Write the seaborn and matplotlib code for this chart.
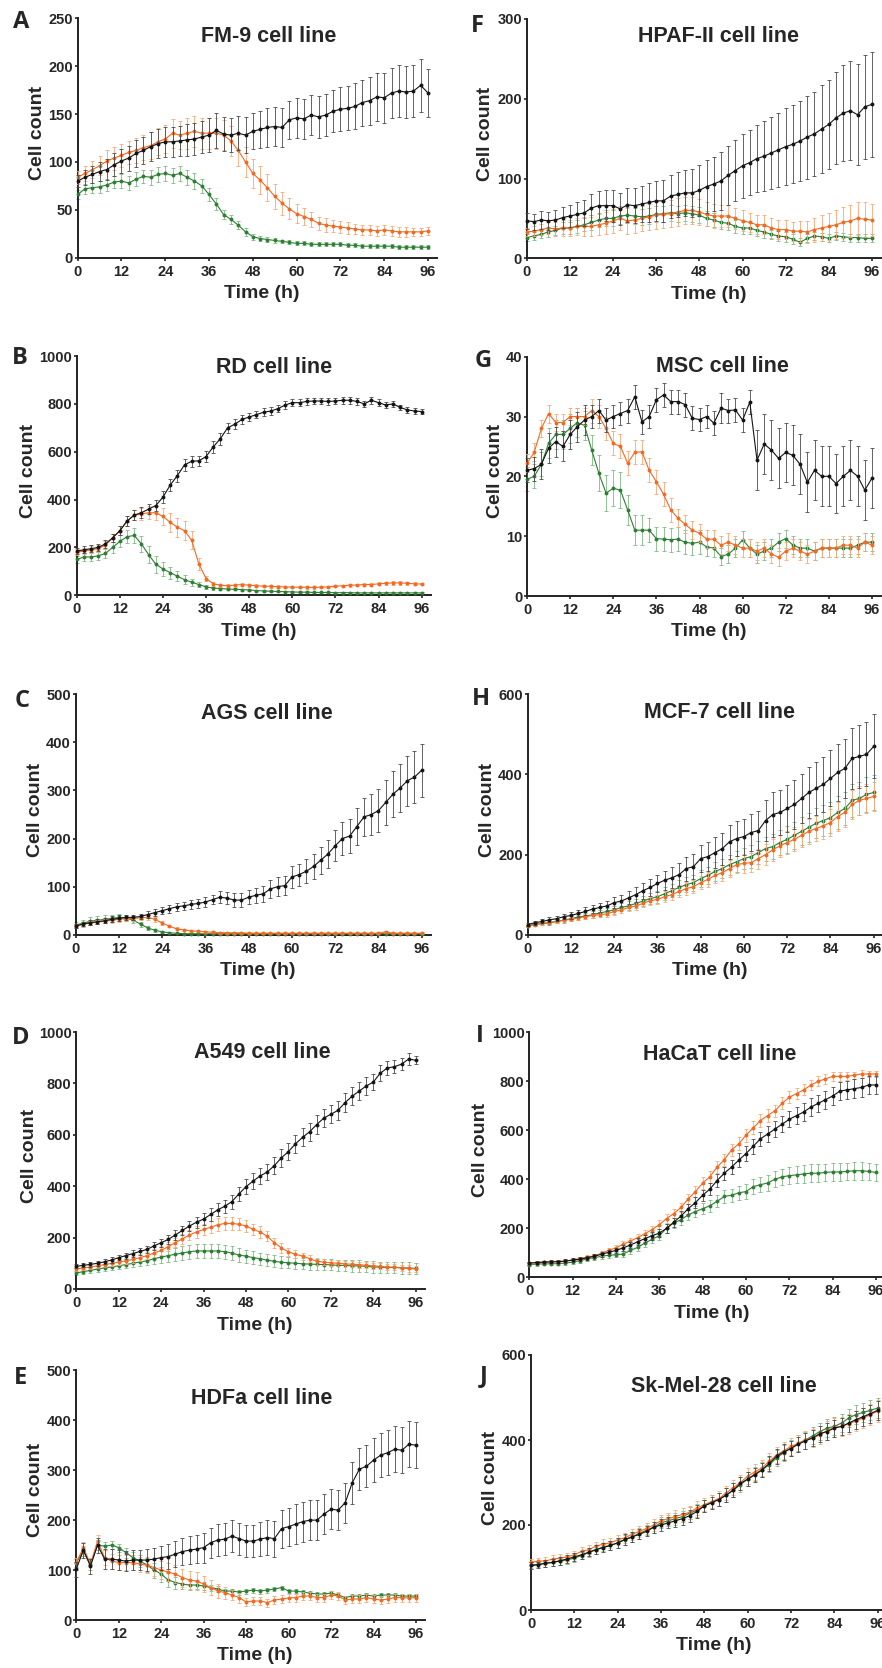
import matplotlib
matplotlib.use("Agg")
from matplotlib import pyplot as plt
import seaborn as sns
import pandas as pd

# time points (h), sampled every 2 h
HOURS = list(range(0, 97, 2))

# --- A: FM-9 ---
FM9_BLACK = [80, 84, 87, 90, 92, 97, 101, 104, 109, 112, 116, 119, 121, 121,
             122, 123, 124, 126, 128, 133, 129, 128, 130, 128, 132, 134, 136, 137,
             136, 144, 146, 145, 149, 147, 149, 153, 155, 156, 158, 162, 164, 168,
             167, 172, 174, 173, 174, 180, 172]
FM9_BLACK_SD = [6, 8, 9, 10, 11, 12, 13, 13, 14, 14, 15, 15, 16, 16,
                16, 17, 17, 17, 18, 18, 18, 18, 18, 19, 19, 19, 20, 20,
                20, 20, 21, 21, 21, 22, 22, 22, 23, 23, 24, 24, 25, 25,
                26, 26, 27, 27, 27, 28, 25]
FM9_ORANGE = [84, 88, 92, 96, 101, 104, 107, 110, 112, 115, 117, 121, 124, 130,
              128, 130, 132, 130, 130, 130, 128, 122, 112, 100, 88, 81, 73, 64,
              57, 51, 46, 43, 40, 36, 34, 33, 32, 31, 30, 29, 29, 28,
              29, 28, 27, 27, 27, 27, 28]
FM9_ORANGE_SD = [7, 8, 9, 10, 11, 12, 12, 12, 13, 13, 14, 14, 15, 15,
                 15, 16, 16, 16, 16, 16, 16, 16, 16, 16, 15, 15, 14, 13,
                 12, 11, 10, 9, 8, 7, 7, 6, 6, 6, 5, 5, 5, 5,
                 5, 5, 5, 5, 4, 4, 4]
FM9_GREEN = [66, 72, 73, 74, 76, 79, 80, 78, 82, 85, 84, 87, 88, 86,
             88, 84, 80, 75, 66, 56, 45, 40, 34, 27, 22, 20, 19, 18,
             17, 16, 15, 15, 14, 14, 14, 14, 14, 13, 13, 12, 12, 12,
             12, 12, 11, 11, 11, 11, 11]
FM9_GREEN_SD = [5, 5, 5, 6, 6, 6, 7, 7, 7, 7, 8, 8, 8, 8,
                8, 8, 8, 7, 7, 6, 5, 5, 4, 4, 3, 3, 3, 3,
                2, 2, 2, 2, 2, 2, 2, 2, 2, 2, 2, 2, 2, 2,
                2, 2, 2, 2, 2, 2, 2]

# --- B: RD ---
RD_BLACK = [185, 190, 195, 200, 215, 240, 270, 310, 335, 345, 360, 375, 410, 460,
            500, 545, 560, 562, 580, 620, 655, 700, 715, 735, 745, 755, 765, 770,
            780, 795, 805, 805, 810, 812, 812, 810, 812, 815, 815, 810, 800, 815,
            805, 795, 800, 785, 775, 770, 768]
RD_BLACK_SD = [12, 14, 15, 15, 16, 18, 18, 20, 20, 22, 22, 22, 24, 25,
               25, 25, 22, 22, 24, 25, 25, 22, 20, 18, 18, 16, 16, 16,
               16, 15, 15, 14, 14, 14, 14, 14, 14, 14, 14, 14, 14, 14,
               14, 12, 12, 12, 12, 12, 10]
RD_ORANGE = [180, 185, 190, 195, 210, 240, 270, 310, 335, 340, 345, 345, 330, 305,
             285, 270, 230, 130, 70, 48, 42, 40, 42, 45, 42, 40, 38, 37,
             36, 35, 34, 34, 33, 33, 34, 35, 38, 40, 42, 43, 45, 45,
             48, 50, 52, 52, 50, 48, 47]
RD_ORANGE_SD = [12, 12, 14, 14, 15, 16, 18, 20, 22, 25, 28, 30, 35, 40,
                40, 40, 38, 25, 12, 8, 6, 6, 6, 6, 6, 6, 5, 5,
                5, 5, 5, 5, 5, 5, 5, 5, 5, 5, 6, 6, 6, 6,
                6, 6, 7, 7, 7, 7, 6]
RD_GREEN = [150, 160, 160, 165, 175, 200, 225, 245, 250, 215, 170, 130, 110, 95,
            80, 65, 55, 45, 35, 30, 28, 26, 25, 24, 22, 20, 18, 17,
            16, 15, 14, 13, 13, 12, 12, 12, 11, 11, 11, 10, 10, 10,
            10, 10, 10, 10, 10, 10, 10]
RD_GREEN_SD = [15, 16, 18, 18, 20, 22, 25, 28, 30, 32, 35, 35, 30, 25,
               22, 18, 15, 12, 8, 6, 5, 5, 4, 4, 4, 4, 3, 3,
               3, 3, 3, 3, 3, 3, 3, 3, 3, 3, 3, 3, 3, 3,
               3, 3, 3, 3, 3, 3, 3]

# --- C: AGS ---
AGS_BLACK = [18, 22, 25, 27, 29, 32, 34, 36, 36, 38, 42, 46, 50, 54,
             58, 60, 63, 65, 68, 73, 78, 76, 72, 72, 78, 82, 85, 95,
             100, 102, 120, 125, 132, 142, 155, 168, 185, 200, 205, 225, 245, 250,
             258, 275, 292, 305, 320, 328, 342]
AGS_BLACK_SD = [4, 4, 5, 5, 5, 6, 6, 6, 6, 6, 7, 7, 7, 8,
                8, 8, 9, 9, 10, 10, 12, 12, 14, 15, 15, 16, 17, 18,
                19, 20, 22, 23, 25, 26, 28, 30, 32, 34, 36, 38, 40, 42,
                44, 46, 48, 50, 52, 54, 55]
AGS_ORANGE = [18, 22, 24, 26, 28, 30, 32, 33, 34, 35, 36, 32, 24, 18,
              12, 10, 8, 7, 6, 5, 4, 4, 4, 4, 3, 3, 3, 3,
              3, 3, 3, 3, 3, 3, 3, 3, 3, 3, 3, 3, 3, 3,
              3, 6, 3, 3, 3, 3, 3]
AGS_ORANGE_SD = [3, 3, 4, 4, 4, 5, 5, 5, 5, 5, 5, 5, 4, 3,
                 3, 2, 2, 2, 2, 2, 2, 2, 2, 2, 2, 2, 2, 2,
                 2, 2, 2, 2, 2, 2, 2, 2, 2, 2, 2, 2, 2, 2,
                 2, 2, 2, 2, 2, 2, 2]
AGS_GREEN = [20, 24, 28, 30, 32, 34, 36, 35, 30, 22, 14, 9, 6, 4,
             3, 2, 2, 2, 2, 2, 2, 2, 2, 2, 2, 2, 2, 2,
             2, 2, 2, 2, 2, 2, 2, 2, 2, 2, 2, 2, 2, 2,
             2, 2, 2, 2, 2, 2, 2]
AGS_GREEN_SD = [6, 7, 8, 8, 8, 8, 8, 7, 6, 5, 4, 3, 2, 2,
                1, 1, 1, 1, 1, 1, 1, 1, 1, 1, 1, 1, 1, 1,
                1, 1, 1, 1, 1, 1, 1, 1, 1, 1, 1, 1, 1, 1,
                1, 1, 1, 1, 1, 1, 1]

# --- D: A549 ---
A549_BLACK = [88, 92, 96, 100, 106, 113, 122, 130, 138, 146, 154, 168, 180, 193,
              210, 228, 245, 260, 272, 290, 308, 322, 340, 370, 398, 420, 440, 455,
              480, 510, 535, 565, 590, 612, 640, 665, 680, 695, 725, 750, 770, 790,
              805, 840, 860, 865, 875, 895, 890]
A549_BLACK_SD = [8, 8, 9, 9, 10, 10, 11, 12, 12, 13, 14, 15, 16, 17,
                 18, 19, 20, 21, 22, 24, 25, 26, 27, 28, 30, 30, 32, 32,
                 33, 34, 34, 35, 35, 35, 36, 36, 36, 36, 36, 35, 35, 34,
                 32, 30, 28, 26, 24, 22, 15]
A549_ORANGE = [78, 82, 86, 90, 95, 100, 105, 110, 115, 122, 130, 140, 150, 165,
               180, 195, 210, 222, 232, 240, 250, 255, 255, 252, 245, 232, 222, 205,
               180, 160, 145, 135, 128, 118, 108, 104, 102, 100, 98, 96, 95, 92,
               90, 88, 85, 85, 82, 80, 78]
A549_ORANGE_SD = [8, 8, 9, 9, 10, 10, 11, 12, 12, 13, 14, 15, 16, 18,
                  18, 20, 20, 22, 22, 24, 25, 25, 25, 24, 24, 22, 22, 20,
                  20, 18, 16, 15, 14, 14, 13, 12, 12, 12, 12, 12, 12, 12,
                  12, 12, 12, 12, 12, 12, 12]
A549_GREEN = [62, 68, 72, 78, 82, 86, 90, 95, 100, 105, 110, 118, 124, 130,
              135, 140, 145, 148, 148, 148, 148, 145, 140, 132, 128, 122, 118, 112,
              108, 104, 102, 100, 98, 97, 96, 95, 94, 92, 92, 90, 90, 88,
              86, 85, 84, 84, 82, 82, 80]
A549_GREEN_SD = [8, 9, 10, 11, 12, 13, 14, 15, 16, 17, 18, 20, 22, 24,
                 25, 26, 27, 28, 28, 28, 28, 28, 27, 26, 25, 25, 24, 24,
                 23, 23, 22, 22, 22, 22, 22, 22, 22, 22, 22, 22, 22, 22,
                 22, 22, 22, 22, 22, 22, 22]

# --- E: HDFa ---
HDFA_BLACK = [102, 140, 108, 150, 122, 122, 120, 118, 120, 120, 120, 122, 125, 127,
              132, 137, 140, 142, 145, 155, 160, 162, 168, 163, 158, 158, 162, 165,
              163, 183, 187, 192, 197, 200, 200, 212, 222, 220, 235, 275, 302, 308,
              320, 330, 335, 342, 340, 352, 350]
HDFA_BLACK_SD = [15, 15, 15, 15, 20, 20, 20, 20, 20, 20, 22, 22, 24, 25,
                 26, 27, 28, 28, 30, 30, 32, 32, 32, 32, 32, 32, 34, 35,
                 36, 38, 38, 40, 40, 40, 40, 40, 40, 40, 40, 42, 42, 42,
                 44, 44, 45, 46, 46, 46, 46]
HDFA_ORANGE = [115, 145, 112, 158, 125, 118, 115, 115, 115, 112, 110, 105, 100, 96,
               92, 85, 80, 78, 72, 65, 58, 55, 50, 45, 36, 38, 38, 35,
               40, 42, 44, 45, 48, 48, 45, 45, 50, 48, 40, 42, 42, 45,
               42, 40, 42, 45, 45, 44, 45]
HDFA_ORANGE_SD = [10, 12, 12, 12, 15, 15, 15, 15, 15, 15, 16, 16, 18, 18,
                  18, 18, 18, 18, 16, 15, 14, 12, 10, 10, 8, 8, 8, 8,
                  8, 8, 8, 8, 8, 8, 8, 8, 8, 8, 8, 8, 8, 8,
                  8, 8, 8, 8, 8, 8, 8]
HDFA_GREEN = [115, 138, 110, 150, 148, 150, 145, 135, 125, 118, 110, 100, 92, 80,
              75, 72, 70, 70, 68, 65, 62, 58, 58, 56, 58, 60, 58, 60,
              62, 65, 58, 58, 56, 54, 52, 52, 54, 50, 45, 48, 48, 50,
              48, 50, 50, 50, 48, 48, 48]
HDFA_GREEN_SD = [8, 10, 10, 10, 8, 8, 8, 10, 12, 12, 14, 15, 15, 14,
                 12, 10, 10, 8, 8, 6, 6, 5, 5, 5, 5, 5, 5, 5,
                 4, 4, 4, 4, 4, 4, 4, 4, 4, 4, 4, 4, 4, 4,
                 4, 4, 4, 4, 4, 4, 4]

# --- F: HPAF-II ---
HPAF_BLACK = [47, 46, 48, 47, 48, 51, 53, 55, 57, 63, 66, 66, 66, 62,
              67, 66, 68, 70, 72, 72, 78, 80, 82, 82, 85, 90, 93, 97,
              104, 110, 116, 120, 125, 128, 132, 136, 140, 143, 147, 152, 156, 162,
              168, 176, 182, 185, 180, 190, 193]
HPAF_BLACK_SD = [10, 10, 11, 11, 12, 13, 14, 15, 16, 17, 18, 19, 20, 20,
                 21, 22, 23, 24, 25, 26, 27, 28, 29, 30, 32, 33, 34, 36,
                 37, 38, 40, 41, 42, 44, 45, 46, 48, 49, 50, 52, 53, 55,
                 56, 58, 60, 62, 63, 65, 66]
HPAF_ORANGE = [33, 34, 36, 38, 37, 38, 38, 40, 40, 40, 42, 44, 47, 50,
               47, 48, 50, 52, 54, 55, 56, 58, 60, 60, 58, 55, 53, 53,
               53, 50, 47, 45, 42, 42, 38, 36, 36, 34, 34, 33, 36, 38,
               40, 42, 45, 47, 50, 49, 48]
HPAF_ORANGE_SD = [5, 6, 7, 8, 9, 10, 10, 11, 12, 12, 13, 14, 15, 15,
                  16, 16, 16, 16, 17, 17, 17, 17, 17, 17, 16, 15, 15, 14,
                  14, 13, 13, 12, 12, 12, 12, 12, 12, 12, 13, 14, 15, 16,
                  17, 18, 19, 20, 21, 22, 20]
HPAF_GREEN = [26, 28, 30, 33, 35, 38, 38, 40, 42, 45, 48, 50, 50, 53,
              54, 53, 52, 53, 55, 56, 57, 56, 57, 56, 54, 50, 48, 45,
              44, 40, 38, 38, 35, 33, 30, 28, 27, 24, 20, 25, 28, 27,
              25, 28, 27, 26, 26, 25, 25]
HPAF_GREEN_SD = [4, 5, 5, 6, 6, 7, 7, 8, 8, 9, 9, 10, 10, 10,
                 10, 10, 10, 10, 10, 10, 10, 10, 10, 10, 10, 9, 9, 8,
                 8, 8, 8, 7, 7, 7, 6, 6, 6, 6, 5, 5, 5, 5,
                 5, 5, 5, 5, 5, 5, 5]

# --- G: MSC ---
MSC_BLACK = [21, 21.3, 22, 24.7, 25.8, 25, 27, 28.3, 29.4, 30, 31, 29.4, 30, 30.5,
             31, 33.3, 29.1, 30, 32.8, 33.6, 32.5, 32.5, 32, 29.7, 29.5, 30, 28.9, 31.4,
             31, 31.1, 29.4, 32.4, 22.7, 25.4, 24.4, 23, 24, 23.5, 22, 19, 21, 20,
             20, 18.8, 20, 21, 20, 17.7, 19.7]
MSC_BLACK_SD = [2, 2, 2.5, 2.5, 2.5, 2.5, 2.5, 2.5, 2.5, 2, 2, 2, 2, 2,
                2, 2, 2, 2, 2, 2, 2, 2, 2, 2, 2, 2, 2, 2.5,
                2, 2, 2, 2, 5, 5, 5, 5, 5, 5, 5, 5, 5, 5,
                5, 5, 5, 5, 5, 5, 5]
MSC_ORANGE = [22.2, 24, 28, 30.5, 29, 29, 30, 30, 30, 31, 30, 28, 25.5, 25,
              22.2, 24, 24.1, 21, 19.1, 17, 14.4, 13, 12, 11, 10.5, 9.5, 9.5, 8.5,
              9, 8.5, 8, 8, 7.5, 8, 7, 6.5, 7.5, 8, 7.5, 7, 7.5, 8,
              8, 8, 8.5, 8.5, 8, 9, 8.5]
MSC_ORANGE_SD = [1.5, 1.5, 1.5, 1.5, 1.5, 1.5, 1.5, 1.5, 1.5, 2, 2, 2, 2, 2,
                 2, 2, 2, 2, 2, 2, 2, 1.5, 1.5, 1.5, 1.5, 1.5, 1.5, 1.5,
                 1.5, 1.5, 1.5, 1.5, 1.5, 1.5, 1.5, 1.5, 1.5, 1.5, 1.5, 1.5, 1.5, 1.5,
                 1.5, 1.5, 1.5, 1.5, 1.5, 1.5, 1.5]
MSC_GREEN = [19.5, 20, 22, 25.5, 27, 27, 28, 29, 28.5, 24.4, 20.5, 17.2, 18, 17.7,
             14.4, 11, 11, 11, 9.6, 9.5, 9.4, 9.5, 9, 8.8, 9, 8.2, 8, 6.6,
             7, 8, 9.4, 8, 7, 7.5, 8, 9, 9.6, 8.5, 8, 8, 7.5, 8,
             8, 8, 8, 8, 8.5, 9, 9]
MSC_GREEN_SD = [2, 2, 2, 2.5, 2.5, 2.5, 2.5, 2.5, 2.5, 2.5, 3, 3, 3, 3,
                2.5, 2.5, 2.5, 2, 2, 2, 2, 2, 2, 2, 2, 1.5, 1.5, 1.5,
                1.5, 1.5, 1.5, 1.5, 1.5, 1.5, 1.5, 1.5, 1.5, 1.5, 1.5, 1.5, 1.5, 1.5,
                1.5, 1.5, 1.5, 1.5, 1.5, 1.5, 1.5]

# --- H: MCF-7 ---
MCF7_BLACK = [25, 30, 33, 37, 40, 45, 48, 53, 58, 64, 68, 72, 80, 84,
              92, 100, 110, 118, 128, 136, 142, 150, 165, 170, 190, 195, 205, 215,
              232, 240, 245, 255, 260, 285, 300, 305, 315, 325, 340, 355, 365, 375,
              390, 405, 415, 440, 445, 450, 470]
MCF7_BLACK_SD = [4, 5, 5, 6, 6, 7, 8, 9, 10, 11, 12, 13, 14, 15,
                 16, 18, 20, 21, 22, 24, 26, 28, 30, 32, 34, 36, 38, 40,
                 42, 44, 45, 47, 49, 52, 55, 57, 58, 60, 62, 64, 66, 68,
                 70, 72, 74, 76, 78, 80, 80]
MCF7_ORANGE = [22, 25, 28, 30, 33, 36, 38, 42, 45, 48, 50, 52, 58, 62,
               68, 72, 78, 85, 88, 95, 100, 108, 115, 120, 130, 138, 148, 155,
               165, 175, 178, 180, 190, 200, 212, 222, 230, 238, 248, 258, 265, 272,
               280, 295, 305, 325, 335, 340, 345]
MCF7_ORANGE_SD = [3, 3, 4, 4, 5, 5, 5, 6, 6, 6, 7, 7, 8, 8,
                  9, 10, 10, 11, 12, 13, 14, 15, 16, 16, 17, 18, 19, 20,
                  21, 22, 23, 24, 25, 26, 27, 28, 29, 30, 30, 31, 32, 33,
                  34, 35, 35, 36, 36, 37, 37]
MCF7_GREEN = [22, 26, 28, 30, 33, 36, 40, 44, 46, 50, 54, 58, 62, 68,
              72, 78, 84, 90, 95, 102, 110, 118, 125, 130, 140, 148, 158, 165,
              175, 182, 190, 195, 205, 215, 220, 230, 238, 248, 258, 268, 278, 285,
              292, 305, 315, 335, 340, 350, 355]
MCF7_GREEN_SD = [3, 4, 4, 5, 5, 6, 6, 7, 7, 8, 8, 9, 10, 10,
                 11, 12, 13, 14, 15, 16, 17, 18, 19, 20, 21, 22, 23, 24,
                 25, 26, 27, 28, 29, 30, 31, 32, 33, 34, 35, 36, 37, 38,
                 39, 40, 41, 42, 42, 43, 43]

# --- I: HaCaT ---
HACAT_BLACK = [58, 60, 62, 63, 64, 66, 70, 74, 80, 86, 94, 102, 110, 120,
               132, 145, 158, 170, 180, 200, 225, 250, 280, 305, 335, 360, 395, 425,
               450, 478, 505, 535, 565, 585, 605, 625, 645, 660, 675, 695, 710, 725,
               740, 760, 765, 770, 775, 785, 785]
HACAT_BLACK_SD = [6, 6, 6, 6, 6, 7, 7, 8, 8, 9, 10, 10, 11, 12,
                  13, 14, 15, 16, 17, 18, 19, 20, 21, 22, 23, 24, 25, 26,
                  27, 28, 29, 30, 30, 31, 32, 32, 33, 34, 35, 36, 36, 37,
                  38, 38, 38, 38, 38, 38, 38]
HACAT_ORANGE = [58, 60, 62, 63, 64, 66, 72, 76, 82, 88, 98, 110, 120, 135,
                148, 162, 178, 195, 215, 240, 260, 285, 320, 350, 385, 410, 450, 480,
                520, 545, 580, 610, 640, 660, 680, 710, 735, 750, 765, 785, 800, 810,
                820, 820, 820, 825, 830, 830, 830]
HACAT_ORANGE_SD = [6, 6, 6, 6, 7, 7, 7, 8, 8, 9, 10, 10, 11, 12,
                   13, 14, 15, 16, 17, 18, 19, 20, 21, 22, 23, 24, 25, 25,
                   26, 26, 26, 26, 26, 26, 25, 25, 24, 23, 22, 21, 20, 19,
                   18, 17, 16, 15, 15, 14, 14]
HACAT_GREEN = [52, 54, 55, 55, 56, 58, 62, 68, 75, 80, 86, 90, 92, 95,
               110, 122, 140, 155, 170, 200, 222, 235, 255, 268, 280, 292, 310, 330,
               335, 345, 350, 370, 378, 385, 400, 410, 415, 418, 422, 425, 425, 428,
               430, 430, 432, 435, 435, 432, 428]
HACAT_GREEN_SD = [6, 6, 6, 6, 7, 7, 7, 8, 8, 9, 10, 10, 11, 12,
                  13, 14, 15, 16, 17, 18, 19, 20, 21, 22, 23, 24, 25, 26,
                  27, 28, 29, 30, 31, 32, 33, 34, 35, 35, 36, 36, 36, 36,
                  36, 36, 36, 36, 36, 35, 35]

# --- J: Sk-Mel-28 ---
SKMEL_BLACK = [105, 106, 110, 112, 116, 120, 125, 130, 136, 142, 147, 152, 158, 166,
               172, 178, 185, 195, 200, 205, 210, 215, 222, 232, 245, 252, 260, 270,
               282, 298, 308, 318, 330, 345, 362, 372, 380, 390, 398, 405, 415, 420,
               428, 432, 440, 448, 455, 462, 470]
SKMEL_BLACK_SD = [8, 8, 8, 9, 9, 9, 10, 10, 10, 10, 11, 11, 11, 12,
                  12, 12, 12, 13, 13, 13, 14, 14, 14, 15, 15, 15, 15, 16,
                  16, 16, 16, 17, 17, 17, 18, 18, 18, 18, 19, 19, 19, 20,
                  20, 20, 20, 21, 21, 21, 22]
SKMEL_ORANGE = [112, 115, 115, 120, 122, 125, 130, 138, 142, 150, 155, 158, 165, 170,
                178, 185, 192, 200, 210, 215, 220, 225, 230, 240, 248, 255, 262, 275,
                288, 300, 315, 325, 335, 350, 365, 375, 385, 392, 400, 405, 412, 422,
                430, 432, 438, 445, 452, 460, 468]
SKMEL_ORANGE_SD = [8, 8, 9, 9, 9, 10, 10, 10, 11, 11, 11, 12, 12, 12,
                   13, 13, 13, 14, 14, 14, 15, 15, 15, 16, 16, 16, 17, 17,
                   17, 18, 18, 18, 19, 19, 19, 20, 20, 20, 21, 21, 21, 22,
                   22, 22, 23, 23, 24, 24, 25]
SKMEL_GREEN = [105, 108, 110, 112, 115, 118, 122, 128, 135, 142, 148, 152, 158, 165,
               172, 180, 188, 195, 205, 210, 215, 220, 228, 235, 245, 255, 260, 270,
               282, 295, 308, 320, 330, 342, 358, 370, 382, 392, 400, 410, 420, 428,
               432, 440, 452, 460, 465, 470, 475]
SKMEL_GREEN_SD = [7, 7, 8, 8, 8, 9, 9, 9, 10, 10, 10, 11, 11, 11,
                  12, 12, 12, 13, 13, 13, 14, 14, 14, 15, 15, 15, 16, 16,
                  16, 17, 17, 17, 18, 18, 18, 19, 19, 19, 20, 20, 20, 21,
                  21, 21, 22, 22, 22, 23, 23]

COLORS = {"black": ("#141414", "#4a4a4a"),
          "orange": ("#f26a21", "#f6a877"),
          "green": ("#2d7f34", "#80b985")}

W, H = 882, 1668

sns.set_style("ticks")
plt.rcParams["font.family"] = ["Liberation Sans", "DejaVu Sans"]
plt.rcParams["font.weight"] = "bold"

fig = plt.figure(figsize=(W / 100, H / 100), dpi=100)

panels = [
    ("A", "FM-9 cell line", 250, 50, (77.7, 428, 18.3, 257.7), (269, 36), (21, 22), 38,
     [(FM9_GREEN, FM9_GREEN_SD), (FM9_ORANGE, FM9_ORANGE_SD), (FM9_BLACK, FM9_BLACK_SD)]),
    ("B", "RD cell line", 1000, 200, (76.7, 421.7, 356, 595.3), (274, 367.5), (20, 358.5), 28.7,
     [(RD_GREEN, RD_GREEN_SD), (RD_ORANGE, RD_ORANGE_SD), (RD_BLACK, RD_BLACK_SD)]),
    ("C", "AGS cell line", 500, 100, (75.7, 421.7, 694.3, 934.7), (267, 713.5), (22, 701), 36,
     [(AGS_GREEN, AGS_GREEN_SD), (AGS_ORANGE, AGS_ORANGE_SD), (AGS_BLACK, AGS_BLACK_SD)]),
    ("D", "A549 cell line", 1000, 200, (76.3, 415.7, 1032, 1289), (262, 1053), (21, 1038), 29.5,
     [(A549_GREEN, A549_GREEN_SD), (A549_ORANGE, A549_ORANGE_SD), (A549_BLACK, A549_BLACK_SD)]),
    ("E", "HDFa cell line", 500, 100, (76.3, 416, 1370.3, 1620), (262, 1398.5), (21, 1378.5), 36,
     [(HDFA_GREEN, HDFA_GREEN_SD), (HDFA_ORANGE, HDFA_ORANGE_SD), (HDFA_BLACK, HDFA_BLACK_SD)]),
    ("F", "HPAF-II cell line", 300, 100, (526.7, 872, 19, 258.3), (718, 36), (477.5, 25.5), 485.5,
     [(HPAF_GREEN, HPAF_GREEN_SD), (HPAF_ORANGE, HPAF_ORANGE_SD), (HPAF_BLACK, HPAF_BLACK_SD)]),
    ("G", "MSC cell line", 40, 10, (527, 872, 356.7, 596), (722, 366), (483, 361), 495.5,
     [(MSC_GREEN, MSC_GREEN_SD), (MSC_ORANGE, MSC_ORANGE_SD), (MSC_BLACK, MSC_BLACK_SD)]),
    ("H", "MCF-7 cell line", 600, 200, (527.7, 873.7, 694.3, 934.7), (719, 713), (481, 699.5), 488,
     [(MCF7_GREEN, MCF7_GREEN_SD), (MCF7_ORANGE, MCF7_ORANGE_SD), (MCF7_BLACK, MCF7_BLACK_SD)]),
    ("I", "HaCaT cell line", 1000, 200, (529.3, 876, 1032.3, 1277.3), (720, 1054), (479.5, 1036), 480.5,
     [(HACAT_GREEN, HACAT_GREEN_SD), (HACAT_ORANGE, HACAT_ORANGE_SD), (HACAT_BLACK, HACAT_BLACK_SD)]),
    ("J", "Sk-Mel-28 cell line", 600, 200, (531, 877.7, 1355, 1610), (724, 1387), (483.5, 1376), 490.5,
     [(SKMEL_GREEN, SKMEL_GREEN_SD), (SKMEL_ORANGE, SKMEL_ORANGE_SD), (SKMEL_BLACK, SKMEL_BLACK_SD)]),
]

for letter, title, ymax, ystep, box, title_xy, letter_xy, ylab_x, series in panels:
    x0, x96, ytop, y0 = box
    w = (x96 - x0) * 98.5 / 96
    h = y0 - ytop
    ax = fig.add_axes([x0 / W, 1 - y0 / H, w / W, h / H])

    for z, ((mean, sd), name) in enumerate(zip(series, ["green", "orange", "black"])):
        line_c, bar_c = COLORS[name]
        df = pd.DataFrame({"Time (h)": HOURS, "Cell count": mean, "sd": sd})
        ax.errorbar(df["Time (h)"], df["Cell count"], yerr=df["sd"], fmt="none",
                    ecolor=bar_c, elinewidth=0.6, capsize=1.3, capthick=0.6,
                    zorder=2 + 2 * z, clip_on=False)
        sns.lineplot(data=df, x="Time (h)", y="Cell count", color=line_c, linewidth=0.8,
                     marker="o", markersize=2.8, markeredgewidth=0, ax=ax,
                     zorder=3 + 2 * z, clip_on=False)

    ax.set_xlim(0, 98.5)
    ax.set_ylim(0, ymax)
    ax.set_xticks(range(0, 97, 12))
    ax.set_yticks(range(0, ymax + 1, ystep))
    sns.despine(ax=ax)
    for side in ["left", "bottom"]:
        ax.spines[side].set_linewidth(1.4)
        ax.spines[side].set_color("#222222")
    ax.tick_params(axis="both", direction="out", length=2.5, width=1.2,
                   color="#222222", labelsize=10.5)
    ax.tick_params(axis="y", pad=1.0)
    ax.tick_params(axis="x", pad=2.5)
    for lab in ax.get_xticklabels() + ax.get_yticklabels():
        lab.set_fontweight("bold")

    ax.set_xlabel("Time (h)", fontsize=14, fontweight="bold")
    ax.xaxis.label.set_va("center")
    ax.xaxis.set_label_coords(0.513, -36 / h)
    ax.set_ylabel("Cell count", fontsize=14, fontweight="bold")
    ax.yaxis.label.set_va("center")
    ax.yaxis.set_label_coords((ylab_x - x0) / w, 0.5 + 5 / h)

    fig.text(title_xy[0] / W, 1 - title_xy[1] / H, title, ha="center", va="center",
             fontsize=15.5, fontweight="bold")
    fig.text(letter_xy[0] / W, 1 - letter_xy[1] / H, letter, ha="center", va="center",
             fontsize=17, fontweight="bold", family=["Open Sans", "DejaVu Sans"])

fig.savefig("out.png", dpi=100)
